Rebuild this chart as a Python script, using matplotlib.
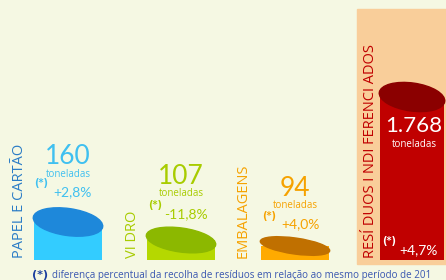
import matplotlib
matplotlib.use("Agg")
import matplotlib.pyplot as plt
from matplotlib.patches import Ellipse, Rectangle

# data
categories = ["PAPEL E CARTÃO", "VI DRO", "EMBALAGENS", "RESÍ DUOS I NDI FERENCI ADOS"]
tonnes = ["160", "107", "94", "1.768"]
changes = ["+2,8%", "-11,8%", "+4,0%", "+4,7%"]
bar_heights = [38, 20, 14, 163]   # drawn height (chart is not to scale)
footnote = "diferença percentual da recolha de resíduos em relação ao mesmo período de 201"

body_colors = ["#33CCFF", "#B5D800", "#FFAA00", "#C00000"]
top_colors = ["#1E88DA", "#8CB800", "#C07000", "#8B0000"]
text_colors = ["#3FC0F0", "#A8CC00", "#F5A200", "#FFFFFF"]
label_colors = ["#2A7CC6", "#A8CC00", "#F5A200", "#C00000"]

W, H = 446, 280
fig = plt.figure(figsize=(W / 100, H / 100), dpi=100)
fig.patch.set_facecolor("#F5F8E3")
ax = fig.add_axes([0, 0, 1, 1])
ax.set_xlim(0, W)
ax.set_ylim(0, H)
ax.axis("off")

# peach panel behind the last bar
ax.add_patch(Rectangle((357, 16), 89, 255, color="#F9CE9A", zorder=0))

lefts = [34, 147, 261, 380]
widths = [68, 68, 68, 64]
base = 20
ell_h = [27, 24, 16, 28]

ax.bar(lefts, bar_heights, width=widths, bottom=base, align="edge",
       color=body_colors, zorder=2)
for x, w, h, eh, c in zip(lefts, widths, bar_heights, ell_h, top_colors):
    ax.add_patch(Ellipse((x + w / 2, base + h), w + 2, eh, angle=-8,
                         color=c, zorder=3))

# vertical category labels
label_x = [20, 133, 243, 371]
for lx, lab, c in zip(label_x, categories, label_colors):
    ax.text(lx, 22, lab, rotation=90, ha="center", va="bottom", color=c,
            fontsize=10.5, family="Open Sans")

# numbers above the first three bars, inside the red one (baselines)
num_base = [H - 164, H - 184, H - 196, H - 132]
ton_base = [H - 177, H - 196, H - 208, H - 147]
for i, (x, w) in enumerate(zip(lefts, widths)):
    cx = x + w / 2 + (0 if i < 3 else 2)
    c = text_colors[i]
    size = 19 if i < 3 else 16
    ax.text(cx, num_base[i], tonnes[i], ha="center", va="baseline", color=c,
            fontsize=size, family="Lato", zorder=4)
    ax.text(cx, ton_base[i], "toneladas", ha="center", va="baseline",
            color=c, fontsize=7, family="Open Sans", zorder=4)

chg_pos = [(73, H - 196), (186, H - 218), (300, H - 228), (418, H - 254)]
star_pos = [(41, H - 186), (155, H - 208), (269, H - 219), (389, H - 244)]
for i in range(4):
    c = text_colors[i]
    ax.text(*chg_pos[i], changes[i], ha="center", va="baseline", color=c,
            fontsize=10, family="Lato", zorder=4)
    ax.text(*star_pos[i], "(*)", ha="center", va="baseline", color=c,
            fontsize=7, fontweight="bold", zorder=4)

# footnote
ax.text(32, 2, "(*)", ha="left", va="baseline", color="#1A3E9E",
        fontsize=8, fontweight="bold")
ax.text(52, 2, footnote, ha="left", va="baseline", color="#3A57B0",
        fontsize=7.1, family="Open Sans")

fig.savefig("out.png", dpi=100, facecolor=fig.get_facecolor())
